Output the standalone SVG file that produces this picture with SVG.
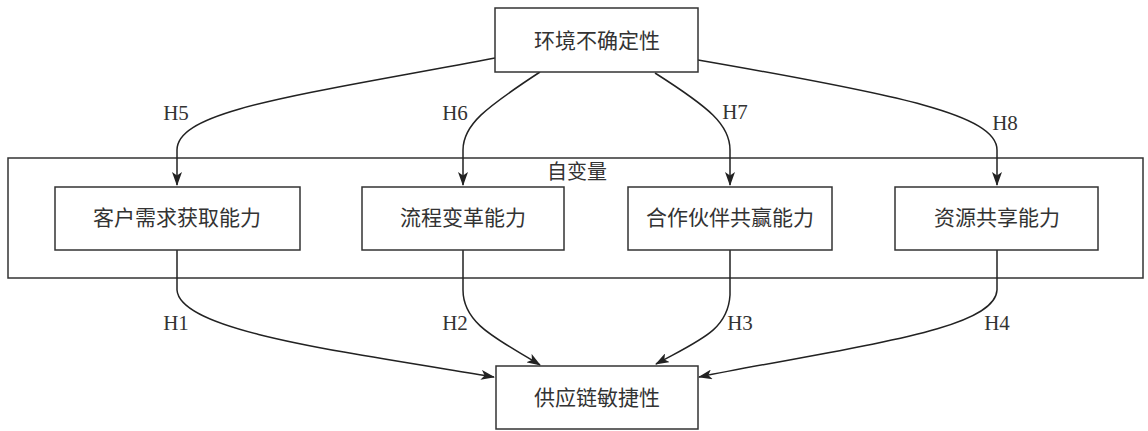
<svg xmlns="http://www.w3.org/2000/svg" width="1148" height="431" viewBox="0 0 1148 431">
<defs>
<marker id="arr" viewBox="0 0 14 10" refX="13" refY="5" markerWidth="14" markerHeight="10" markerUnits="userSpaceOnUse" orient="auto">
<path d="M0,0 L14,5 L0,10 L3.5,5 z" fill="#222"/>
</marker>
<style>
.box{fill:#fff;stroke:#333;stroke-width:1.5}
.frame{fill:none;stroke:#333;stroke-width:1.5}
.cn{font-family:"Liberation Serif","Noto Sans CJK SC",serif;font-size:21px;fill:#333;text-anchor:middle;dominant-baseline:central}
.lbl{font-family:"Liberation Serif",serif;font-size:21px;fill:#333;text-anchor:middle;dominant-baseline:central}
.edge{fill:none;stroke:#222;stroke-width:1.5;marker-end:url(#arr)}
</style>
</defs>
<rect width="1148" height="431" fill="#fff"/>
<g id="group-iv">
<rect class="frame" x="8" y="158" width="1135" height="120"/>
<text class="cn" x="577" y="172" style="font-size:20px">自变量</text>
</g>
<g id="connectors">
<path class="edge" d="M495,58 C300,95 177,110 177,150 L177,185"/>
<path class="edge" d="M540,72 C485,108 463,125 463,150 L463,185"/>
<path class="edge" d="M655,73 C710,108 730,125 730,150 L730,185"/>
<path class="edge" d="M698,60 C900,95 997,115 997,150 L997,185"/>
<path class="edge" d="M177,250 L177,290 C180,330 330,350 494,377"/>
<path class="edge" d="M463,250 L463,290 C463,325 500,340 540,365"/>
<path class="edge" d="M730,250 L730,295 C728,330 700,340 656,364"/>
<path class="edge" d="M997,250 L997,290 C995,330 860,345 699,377"/>
<text class="lbl" x="176" y="113">H5</text>
<text class="lbl" x="455" y="113">H6</text>
<text class="lbl" x="735" y="112">H7</text>
<text class="lbl" x="1005" y="123">H8</text>
<text class="lbl" x="176" y="323">H1</text>
<text class="lbl" x="455" y="323">H2</text>
<text class="lbl" x="740" y="323">H3</text>
<text class="lbl" x="997" y="323">H4</text>
</g>
<g id="node-env">
<rect class="box" x="495" y="8" width="203" height="64"/>
<text class="cn" x="597" y="41">环境不确定性</text>
</g>
<g id="node-customer">
<rect class="box" x="55" y="187" width="245" height="63"/>
<text class="cn" x="177" y="218">客户需求获取能力</text>
</g>
<g id="node-process">
<rect class="box" x="362" y="187" width="202" height="63"/>
<text class="cn" x="463" y="218">流程变革能力</text>
</g>
<g id="node-partner">
<rect class="box" x="628" y="187" width="204" height="63"/>
<text class="cn" x="730" y="218">合作伙伴共赢能力</text>
</g>
<g id="node-resource">
<rect class="box" x="895" y="187" width="203" height="63"/>
<text class="cn" x="997" y="218">资源共享能力</text>
</g>
<g id="node-agility">
<rect class="box" x="496" y="366" width="202" height="63"/>
<text class="cn" x="597" y="398">供应链敏捷性</text>
</g>
</svg>
